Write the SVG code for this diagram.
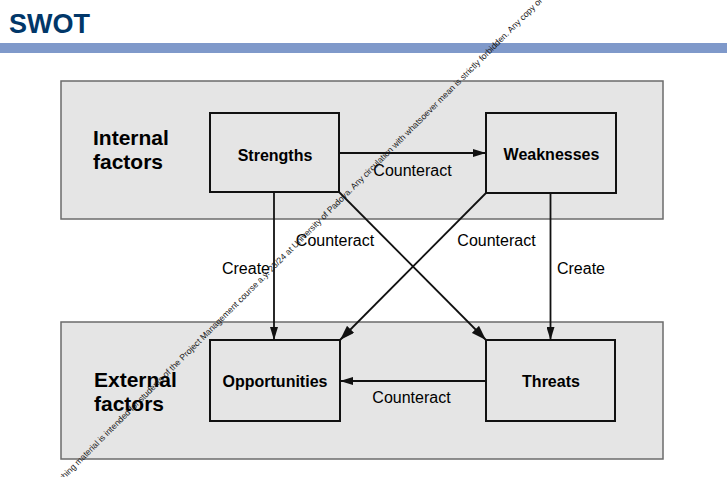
<svg xmlns="http://www.w3.org/2000/svg" width="727" height="477" viewBox="0 0 727 477">
  <style>
    .title { font-family: "Liberation Sans", Arial, sans-serif; font-weight: bold; font-size: 27px; fill: #013769; }
    .group { fill: #e5e5e5; stroke: #6b6b6b; stroke-width: 1.5; }
    .node { fill: #e5e5e5; stroke: #111; stroke-width: 2; }
    .glabel { font-family: "Liberation Sans", Arial, sans-serif; font-weight: bold; font-size: 21px; fill: #000; }
    .nlabel { font-family: "Liberation Sans", Arial, sans-serif; font-weight: bold; font-size: 16px; fill: #000; text-anchor: middle; }
    .elabel { font-family: "Liberation Sans", Arial, sans-serif; font-size: 16px; fill: #000; text-anchor: middle; }
    .edge { fill: none; stroke: #111; stroke-width: 1.8; }
    .wm { font-family: "Liberation Sans", Arial, sans-serif; font-size: 8.6px; fill: #1a1a1a; }
  </style>
  <defs>
    <marker id="arr" markerUnits="userSpaceOnUse" markerWidth="13" markerHeight="8" refX="13" refY="4" orient="auto">
      <path d="M0,0 L13,4 L0,8 z" fill="#111"/>
    </marker>
    <marker id="arrd" markerUnits="userSpaceOnUse" markerWidth="15" markerHeight="10" refX="15" refY="5" orient="auto">
      <path d="M0,0 L15,5 L0,10 z" fill="#111"/>
    </marker>
  </defs>

  <rect x="0" y="0" width="727" height="477" fill="#ffffff"/>

  <g id="header">
    <text class="title" x="9" y="33">SWOT</text>
    <rect x="0" y="43" width="727" height="10" fill="#7f99ca"/>
  </g>

  <g id="internal-factors">
    <rect class="group" x="61" y="81" width="602" height="138"/>
    <text class="glabel" x="93" y="145">Internal</text>
    <text class="glabel" x="93" y="169">factors</text>
  </g>

  <g id="external-factors">
    <rect class="group" x="61" y="322" width="602" height="137"/>
    <text class="glabel" x="94" y="387">External</text>
    <text class="glabel" x="94" y="411">factors</text>
  </g>

  <g id="strengths">
    <rect class="node" x="210" y="113" width="129" height="79"/>
    <text class="nlabel" x="275" y="161">Strengths</text>
  </g>

  <g id="weaknesses">
    <rect class="node" x="486" y="113" width="130" height="80"/>
    <text class="nlabel" x="551.5" y="160">Weaknesses</text>
  </g>

  <g id="opportunities">
    <rect class="node" x="210" y="340" width="130" height="81"/>
    <text class="nlabel" x="275" y="387">Opportunities</text>
  </g>

  <g id="threats">
    <rect class="node" x="486" y="340" width="129" height="81"/>
    <text class="nlabel" x="551" y="387">Threats</text>
  </g>

  <g id="connectors">
    <line class="edge" x1="339" y1="153" x2="486" y2="153" marker-end="url(#arr)"/>
    <line class="edge" x1="274" y1="192" x2="274" y2="340" marker-end="url(#arr)"/>
    <line class="edge" x1="550.5" y1="193" x2="550.5" y2="340" marker-end="url(#arr)"/>
    <line class="edge" x1="486" y1="381" x2="340" y2="381" marker-end="url(#arr)"/>
    <line class="edge" x1="339" y1="192" x2="486" y2="340" marker-end="url(#arrd)"/>
    <line class="edge" x1="486" y1="193" x2="340" y2="340" marker-end="url(#arrd)"/>
    <text class="elabel" x="412.5" y="176">Counteract</text>
    <text class="elabel" x="246" y="274">Create</text>
    <text class="elabel" x="581" y="274">Create</text>
    <text class="elabel" x="335" y="246">Counteract</text>
    <text class="elabel" x="496.5" y="246">Counteract</text>
    <text class="elabel" x="411.5" y="403">Counteract</text>
  </g>

  <g id="watermark">
    <text class="wm" transform="translate(62,482) rotate(-45)">ching material is intended for students of the Project Management course a.y. 23/24 at University of Padova.  Any circulation with whatsoever mean is strictly forbidden. Any copy of</text>
  </g>
</svg>
